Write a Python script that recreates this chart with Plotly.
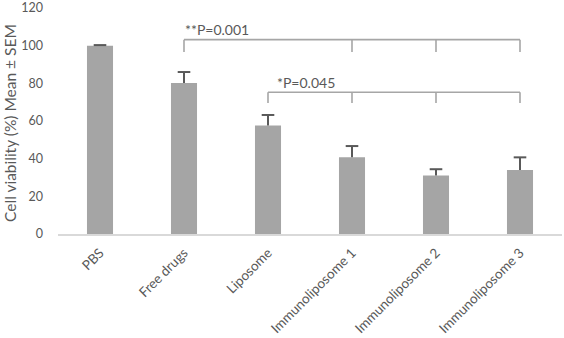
import plotly.graph_objects as go

categories = ["PBS", "Free drugs", "Liposome", "Immunoliposome 1", "Immunoliposome 2", "Immunoliposome 3"]
viability = [100, 80.2, 57.6, 40.8, 31.0, 34.0]
sem = [0.3, 5.8, 5.6, 5.9, 3.4, 6.7]

# significance brackets: category indices, bracket level, label
bracket1_idx = [1, 3, 4, 5]
bracket1_level = 103.2
bracket1_drop = 96.7
bracket1_label = "**P=0.001"
bracket2_idx = [2, 3, 4, 5]
bracket2_level = 75.3
bracket2_drop = 69.5
bracket2_label = "*P=0.045"

FONT = "Lato"
TXT = "#595959"
BR = "#a6a6a6"
ERR = "#595959"

fig = go.Figure()
fig.add_trace(go.Bar(
    x=categories, y=viability, width=0.31,
    marker=dict(color="#a5a5a5", line=dict(width=0)),
))

# upper-only error bars: stems + caps
stem_x, stem_y = [], []
for c, v, e in zip(categories, viability, sem):
    stem_x += [c, c, None]
    stem_y += [v, v + e, None]
fig.add_trace(go.Scatter(x=stem_x, y=stem_y, mode="lines",
                         line=dict(color=ERR, width=2), hoverinfo="skip"))
fig.add_trace(go.Scatter(x=categories, y=[v + e for v, e in zip(viability, sem)], mode="markers",
                         marker=dict(symbol="line-ew", size=9, line=dict(color=ERR, width=2)),
                         hoverinfo="skip"))

shapes = []
def add_bracket(idx, level, drop):
    shapes.append(dict(type="line", xref="x", yref="y", x0=idx[0], x1=idx[-1], y0=level, y1=level,
                       line=dict(color=BR, width=1.6)))
    for i in idx:
        shapes.append(dict(type="line", xref="x", yref="y", x0=i, x1=i, y0=level, y1=drop,
                           line=dict(color=BR, width=1.6)))
add_bracket(bracket1_idx, bracket1_level, bracket1_drop)
add_bracket(bracket2_idx, bracket2_level, bracket2_drop)

annotations = [
    dict(x=bracket1_idx[0], y=108.7, xref="x", yref="y", text=bracket1_label, showarrow=False,
         xanchor="left", xshift=-1, font=dict(family=FONT, size=14, color=TXT)),
    dict(x=bracket2_idx[0], y=80.2, xref="x", yref="y", text=bracket2_label, showarrow=False,
         xanchor="left", xshift=7, font=dict(family=FONT, size=14, color=TXT)),
    dict(x=-0.094, y=0.49, xref="paper", yref="y domain", text="Cell viability (%) Mean ± SEM",
         showarrow=False, textangle=-90, xanchor="center", yanchor="middle",
         font=dict(family=FONT, size=15.5, color=TXT)),
]

fig.update_layout(
    width=564, height=338,
    margin=dict(l=58, r=2, t=8, b=104),
    paper_bgcolor="white", plot_bgcolor="white",
    showlegend=False,
    shapes=shapes, annotations=annotations,
    font=dict(family=FONT, size=13, color=TXT),
    xaxis=dict(showline=True, linecolor="#d9d9d9", linewidth=1.5, showgrid=False,
               tickangle=-45, ticks="", automargin=False, ticklabelstandoff=4,
               tickfont=dict(family=FONT, size=13.5, color=TXT)),
    yaxis=dict(range=[0, 120], dtick=20, showgrid=False, showline=False, zeroline=False,
               ticks="", ticklabelstandoff=14, automargin=False, ticklabeloverflow="allow",
               tickfont=dict(family=FONT, size=12.5, color=TXT)),
)

fig.write_html("out.html", config={"displayModeBar": False},
               post_script="document.body.style.margin='0';")
